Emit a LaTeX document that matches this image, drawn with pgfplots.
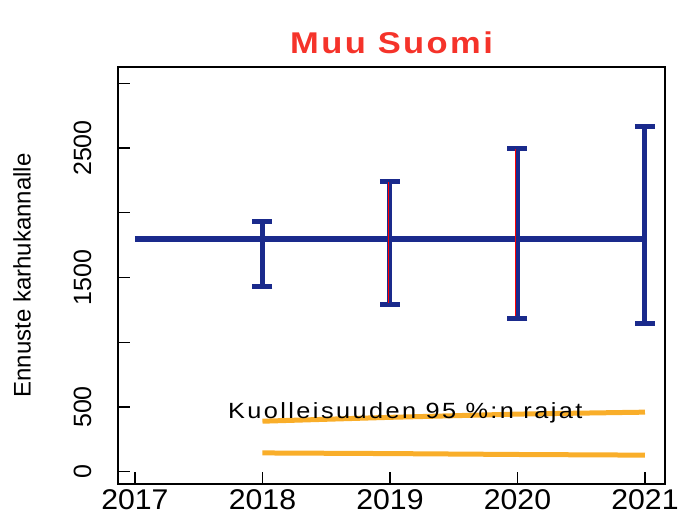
\documentclass[border=0pt]{standalone}
\usepackage{fontspec}
\setmainfont{Liberation Sans}
\newfontfamily\tickfont[FakeStretch=1.06]{Liberation Sans}
\newfontfamily\spaced[FakeStretch=1.15, LetterSpace=11]{Liberation Sans}
\newfontfamily\titlefont[FakeStretch=1.15, LetterSpace=8]{Liberation Sans}
\usepackage{pgfplots}
\pgfplotsset{compat=1.18}
\definecolor{navyb}{HTML}{1A2A8C}
\definecolor{orng}{HTML}{F9AE2A}
\definecolor{titred}{HTML}{F5332A}
\begin{document}
\begin{tikzpicture}
\begin{axis}[
  scale only axis, width=547pt, height=417pt,
  xmin=2016.867, xmax=2021.157, ymin=-95, ymax=3126,
  axis line style={line width=1.4pt, black},
  tick align=inside, xtick pos=bottom, ytick pos=left,
  major tick length=12pt, tick style={line width=1.2pt, black},
  xtick={2017,2018,2019,2020,2021},
  xticklabels={2017,2018,2019,2020,2021},
  ytick={0,500,1000,1500,2000,2500,3000},
  yticklabels={0,500,,1500,,2500,},
  xticklabel style={font=\tickfont\fontsize{28.5}{28.5}\selectfont, yshift=-2pt},
  yticklabel style={rotate=90, anchor=south, font=\fontsize{25}{25}\selectfont, yshift=23pt},
  ylabel={Ennuste karhukannalle},
  ylabel style={font=\fontsize{24}{24}\selectfont, at={(axis description cs:-0.1755,0.5)}, anchor=center, rotate=0},
  title={Muu Suomi},
  title style={font=\titlefont\bfseries\fontsize{30}{30}\selectfont, text=titred, yshift=4pt},
  clip=false,
]
% mortality limits (orange)
\addplot[orng, line width=5pt] coordinates {(2018,390) (2019,420) (2020,445) (2021,460)};
\addplot[orng, line width=5pt] coordinates {(2018,145) (2019,140) (2020,133) (2021,128)};
% forecast mean line
\addplot[navyb, line width=6pt] coordinates {(2017,1797) (2018,1797) (2019,1797) (2020,1797) (2021,1797)};
% error bars
\addplot[draw=none, mark=none, error bars/.cd, y dir=both, y explicit,
  error bar style={line width=5pt, navyb},
  error mark options={rotate=90, mark size=10pt, line width=5pt, navyb}]
  coordinates {
    (2018,1797) += (0,134) -= (0,370)
    (2019,1797) += (0,448) -= (0,509)
    (2020,1797) += (0,702) -= (0,610)
    (2021,1797) += (0,873) -= (0,649)
  };
\addplot[red, line width=1.2pt] coordinates {(2018.986,1300) (2018.986,2235)};
\addplot[red, line width=1.2pt] coordinates {(2019.986,1200) (2019.986,2490)};
\node[font=\spaced\fontsize{22}{22}\selectfont] at (axis cs:2019.12,455) {Kuolleisuuden 95 \%:n rajat};
\end{axis}
\pgfresetboundingbox
\path[use as bounding box] ([xshift=-118pt,yshift=-34pt]current axis.south west) rectangle ([xshift=13pt,yshift=67pt]current axis.north east);
\end{tikzpicture}
\end{document}
